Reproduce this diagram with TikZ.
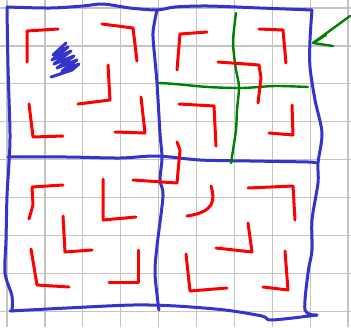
\documentclass[tikz,border=0pt]{standalone}
\usetikzlibrary{calc}
\definecolor{gridgray}{RGB}{196,196,196}
\definecolor{penblue}{RGB}{52,52,204}
\definecolor{penred}{RGB}{255,0,0}
\definecolor{pengreen}{RGB}{0,128,0}
\tikzset{
  gridline/.style={draw=gridgray,line width=1.3pt},
  bluepen/.style={draw=penblue,line width=3pt,line cap=round,line join=round},
  redpen/.style={draw=penred,line width=3pt,line cap=round,line join=round},
  greenpen/.style={draw=pengreen,line width=2.4pt,line cap=round,line join=round},
}
\begin{document}
\begin{tikzpicture}[x=1pt,y=-1pt]
\useasboundingbox (0,0) rectangle (351,327);
\fill[white] (0,0) rectangle (351,327);
% grid paper
\foreach \i in {0,...,9} \draw[gridline] (7+37.9*\i,0) -- (7+37.9*\i,327);
\foreach \j in {0,...,8} \draw[gridline] (0,8+37.9*\j) -- (351,8+37.9*\j);
% blue outer square
\draw[bluepen] plot[smooth,tension=0.5] coordinates {(7,7) (50,8) (83,6) (103,4) (130,8) (157,10) (175,7) (208,6) (260,8) (312,10)};
\draw[bluepen] plot[smooth,tension=0.5] coordinates {(312,10) (310,40) (310,67) (315,100) (322,133) (318,163) (318,183) (312,220) (312,250) (308,273) (305,310) (317,315)};
\draw[bluepen] plot[smooth,tension=0.5] coordinates {(10,311) (67,308) (133,305) (176,306) (225,310) (262,316) (272,320) (317,315)};
\draw[bluepen] plot[smooth,tension=0.5] coordinates {(7,7) (8,67) (10,133) (9,163) (7,196) (6,240) (5,273) (12,296) (12,311)};
% blue cross
\draw[bluepen] plot[smooth,tension=0.5] coordinates {(157,10) (153,33) (155,60) (157,83) (160,133) (162,158) (160,180) (163,196) (157,246) (155,273) (158,303) (159,310)};
\draw[bluepen] plot[smooth,tension=0.5] coordinates {(8,157) (67,157) (120,158) (157,156) (200,160) (250,161) (308,162) (316,163)};
% blue scribble
\draw[penblue,line width=3pt,line cap=round,line join=round] (66,43) -- (53,55) -- (68,47) -- (52,60) -- (71,51) -- (54,64) -- (74,56) -- (57,68) -- (77,60) -- (62,71) -- (79,64) -- (72,70) -- (51,77);
% green lines
\draw[greenpen] plot[smooth,tension=0.5] coordinates {(236,13) (233,40) (234,55) (236,70) (239,87) (237,110) (236,130) (233,150) (231,163)};
\draw[greenpen] plot[smooth,tension=0.5] coordinates {(159,83) (175,84) (208,87) (242,88) (275,86) (308,87)};
% green arrow
\draw[greenpen] (350,16) -- (313,43) -- (333,46);
\draw[greenpen] (313,43) -- (326,35);
% red strokes, top-left quadrant
\draw[redpen] (58,29) -- (27,31) -- (27,62);
\draw[redpen] (102,24) -- (133,28) -- (137,61);
\draw[redpen] (108,65) -- (110,100) -- (78,104);
\draw[redpen] (29,104) -- (33,137) -- (63,136);
\draw[redpen] (141,97) -- (145,133) -- (115,132);
% red strokes, top-right quadrant
\draw[redpen] (207,32) -- (180,34) -- (177,70);
\draw[redpen] (259,29) -- (283,30) -- (286,63);
\draw[redpen] (218,62) -- (259,65) -- (261,78) -- (258,103);
\draw[redpen] (179,104) -- (214,106) -- (216,146);
\draw[redpen] (292,105) -- (293,135) -- (269,133);
\draw[redpen] (177,142) -- (180,150) -- (177,183) -- (133,180);
% red strokes, bottom-left quadrant
\draw[redpen] (63,185) -- (32,187) -- (33,205) -- (29,219);
\draw[redpen] (103,179) -- (103,220) -- (136,217);
\draw[redpen] (63,216) -- (65,252) -- (92,250);
\draw[redpen] (31,249) -- (37,285) -- (69,287);
\draw[redpen] (138,250) -- (138,282) -- (109,282);
% red strokes, bottom-right quadrant
\draw[redpen] (211,186) .. controls (215,200) and (215,212) .. (187,216);
\draw[redpen] (248,188) -- (293,186) -- (295,220);
\draw[redpen] (248,223) -- (252,252) -- (216,248);
\draw[redpen] (186,254) -- (190,291) -- (227,288);
\draw[redpen] (285,251) -- (288,290) -- (263,287);
\end{tikzpicture}
\end{document}
